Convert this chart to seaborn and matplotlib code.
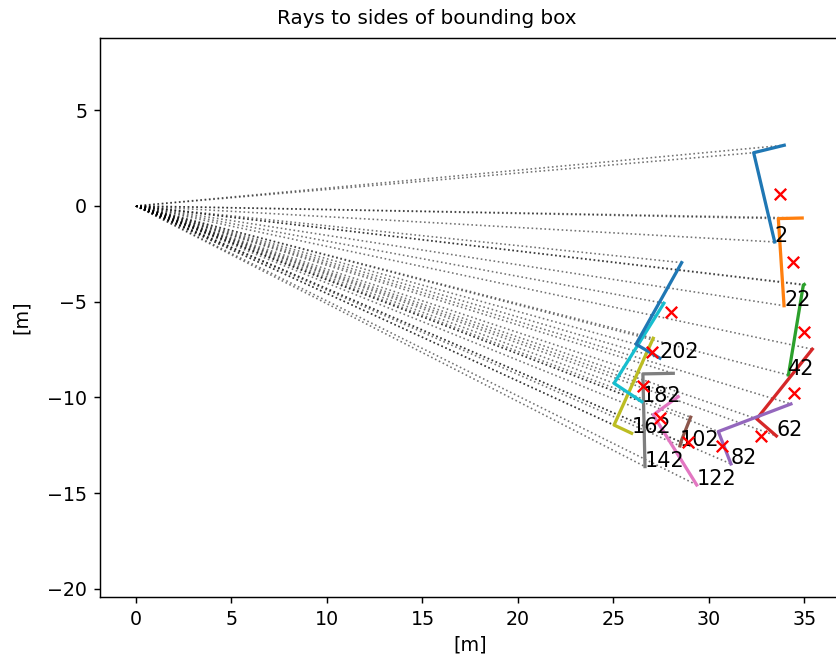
import matplotlib
matplotlib.use("Agg")
import matplotlib.pyplot as plt
import seaborn as sns
import pandas as pd

# ---- data ----
box_ids = [2, 22, 42, 62, 82, 102, 122, 142, 162, 182, 202]
# visible corners of every bounding box: A -> B (nearest corner) -> C (label)
corner_a_x = [33.94, 34.88, 34.99, 35.41, 34.29, 29.04, 28.39, 28.13, 27.08, 27.64, 28.57]
corner_a_y = [3.17, -0.63, -4.10, -7.48, -10.34, -11.03, -9.96, -8.74, -6.91, -5.08, -2.96]
corner_b_x = [32.34, 33.63, 34.94, 32.50, 30.49, 28.53, 27.08, 26.54, 25.03, 25.03, 26.18]
corner_b_y = [2.78, -0.66, -4.13, -11.12, -11.78, -12.32, -10.91, -8.77, -11.44, -9.26, -7.22]
corner_c_x = [33.44, 33.93, 34.16, 33.53, 31.15, 28.48, 29.36, 26.65, 25.95, 26.48, 27.43]
corner_c_y = [-1.88, -5.21, -8.83, -12.01, -13.47, -12.53, -14.57, -13.61, -11.87, -10.22, -7.95]
# red cross markers
marker_x = [33.72, 34.41, 34.97, 34.47, 32.72, 30.66, 28.92, 27.43, 26.53, 27.00, 28.01]
marker_y = [0.63, -2.94, -6.60, -9.78, -12.00, -12.53, -12.31, -11.09, -9.40, -7.64, -5.52]
origin_x, origin_y = 0.0, 0.0

x_ticks = [0, 5, 10, 15, 20, 25, 30, 35]
y_ticks = [-20, -15, -10, -5, 0, 5]

# ---- build tables ----
box_rows = []
ray_rows = []
for i, bid in enumerate(box_ids):
    pts = [(corner_a_x[i], corner_a_y[i]),
           (corner_b_x[i], corner_b_y[i]),
           (corner_c_x[i], corner_c_y[i])]
    for k, (px, py) in enumerate(pts):
        box_rows.append({"box": str(bid), "order": k, "x": px, "y": py})
        rid = f"{bid}_{k}"
        ray_rows.append({"ray": rid, "x": origin_x, "y": origin_y})
        ray_rows.append({"ray": rid, "x": px, "y": py})
boxes = pd.DataFrame(box_rows)
rays = pd.DataFrame(ray_rows)

tab10 = sns.color_palette("tab10", 10)
palette = {str(b): tab10[i % 10] for i, b in enumerate(box_ids)}

# ---- figure ----
DPI = 130
fig = plt.figure(figsize=(836 / DPI, 658 / DPI), dpi=DPI)
ax = fig.add_axes([100 / 836, 61 / 658, 740 / 836, 559 / 658])

sns.lineplot(data=rays, x="x", y="y", units="ray", estimator=None, sort=False,
             color="k", linestyle=":", linewidth=0.9, alpha=0.55, ax=ax, legend=False)

sns.lineplot(data=boxes, x="x", y="y", hue="box", palette=palette, estimator=None,
             sort=False, linewidth=1.8, ax=ax, legend=False)

sns.scatterplot(x=marker_x, y=marker_y, marker="x", color="red", s=40,
                linewidth=1.3, ax=ax, legend=False, zorder=5)

for i, bid in enumerate(box_ids):
    ax.text(corner_c_x[i], corner_c_y[i], str(bid), fontsize=11.5, color="black")

ax.set_xlim(-1.885, 36.86)
ax.set_ylim(-20.42, 8.77)
ax.set_xticks(x_ticks)
ax.set_yticks(y_ticks)
ax.tick_params(labelsize=10.5)
ax.set_xlabel("[m]", fontsize=10.5)
ax.set_ylabel("[m]", fontsize=10.5, labelpad=9)
fig.text(427 / 836, 1 - 19 / 658, "Rays to sides of bounding box",
         ha="center", va="center", fontsize=11)

fig.savefig("out.png", dpi=DPI)
